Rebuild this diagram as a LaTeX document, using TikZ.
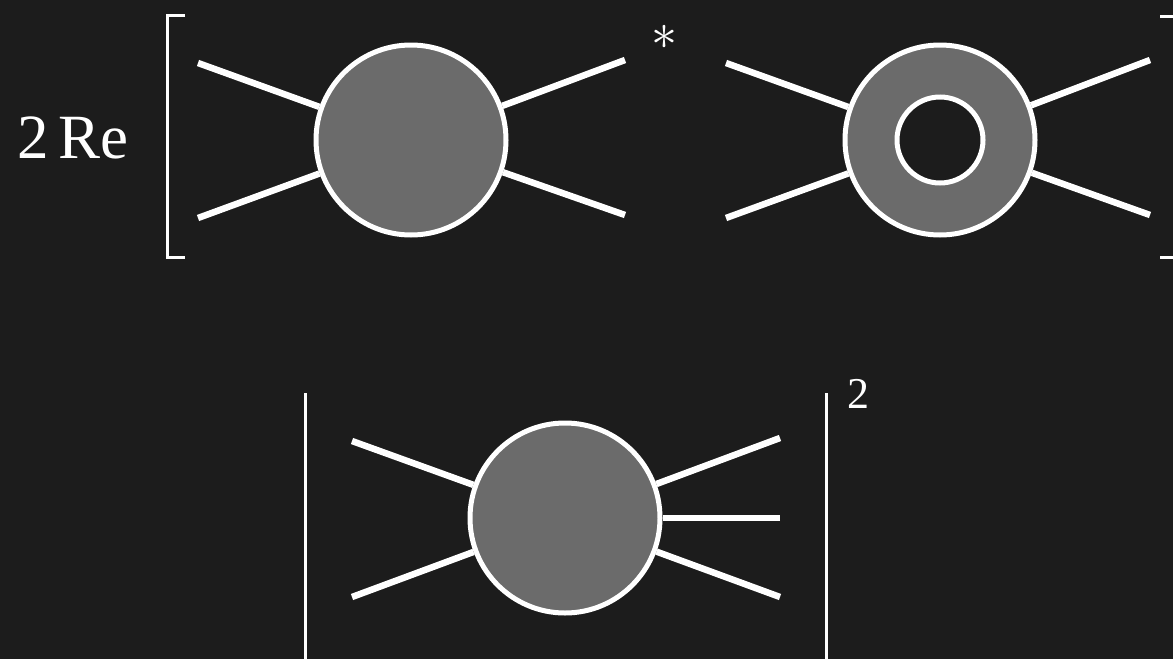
\documentclass[tikz,border=0pt]{standalone}
\usepackage{fontspec}
\setmainfont{Liberation Serif}
\definecolor{bg}{HTML}{1C1C1C}
\definecolor{blob}{HTML}{6B6B6B}
\tikzset{
  blobnode/.style={circle, draw=white, line width=5pt, fill=blob, minimum size=190pt, inner sep=0pt},
  holenode/.style={circle, draw=white, line width=5pt, fill=bg, minimum size=86pt, inner sep=0pt},
  leg/.style={draw=white, line width=6.5pt},
  brk/.style={draw=white, line width=3pt},
  lbl/.style={text=white, inner sep=0pt}
}
\begin{document}
\begin{tikzpicture}[x=1pt, y=-1pt]
\useasboundingbox (0,0) rectangle (1173,659);
\fill[bg] (0,0) rectangle (1173,659);
% top row
\node[lbl, font=\fontsize{63}{63}\selectfont] (re) at (73,138) {2\,Re};
\draw[brk] (185,15) -- (167,15) -- (167,257) -- (185,257);
\draw[brk] (1160,16) -- (1176,16) -- (1176,257) -- (1160,257);
\node[blobnode] (c1) at (411,140) {};
\coordinate (a1) at (198,63);
\coordinate (a2) at (198,218);
\coordinate (a3) at (625,60);
\coordinate (a4) at (625,215);
\draw[leg] (a1) -- (c1);
\draw[leg] (a2) -- (c1);
\draw[leg] (a3) -- (c1);
\draw[leg] (a4) -- (c1);
\node[lbl, scale=5.2] (star) at (664,37) {$\ast$};
\node[blobnode] (c2) at (940,140) {};
\node[holenode] (h2) at (940,140) {};
\coordinate (b1) at (726,63);
\coordinate (b2) at (726,218);
\coordinate (b3) at (1150,60);
\coordinate (b4) at (1150,215);
\draw[leg] (b1) -- (c2);
\draw[leg] (b2) -- (c2);
\draw[leg] (b3) -- (c2);
\draw[leg] (b4) -- (c2);
% bottom row
\draw[brk] (305,393) -- (305,662);
\draw[brk] (826,393) -- (826,662);
\node[lbl, font=\fontsize{44}{44}\selectfont] (sq) at (858,394) {2};
\node[blobnode] (c3) at (565,518) {};
\coordinate (d1) at (352,441);
\coordinate (d2) at (352,597);
\coordinate (d3) at (780,438);
\coordinate (d4) at (780,518);
\coordinate (d5) at (780,597);
\draw[leg] (d1) -- (c3);
\draw[leg] (d2) -- (c3);
\draw[leg] (d3) -- (c3);
\draw[leg] (d4) -- (c3);
\draw[leg] (d5) -- (c3);
\end{tikzpicture}
\end{document}
